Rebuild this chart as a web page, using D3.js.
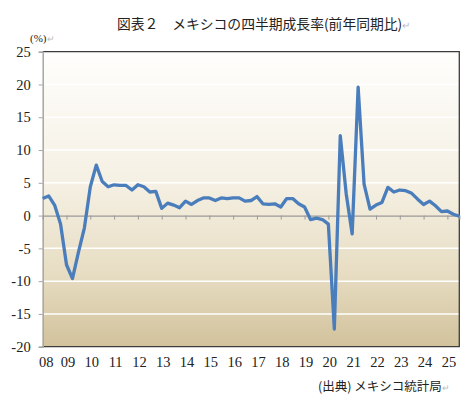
<!DOCTYPE html>
<html>
<head>
<meta charset="utf-8">
<script src="https://cdn.jsdelivr.net/npm/d3@7"></script>
<style>
  body { margin: 0; background: #fff; }
  .axis text { font-family: "Liberation Serif", "DejaVu Serif", serif; font-size: 14.5px; fill: #222; }
  .jp { font-family: "Noto Sans CJK JP", sans-serif; fill: #222; }
  .ret { fill: #bbb; }
</style>
</head>
<body>
<div id="chart"></div>
<script>
// year labels (one per 4 quarters, starting 2008Q1)
var years = ['08','09','10','11','12','13','14','15','16','17','18','19','20','21','22','23','24','25'];

// y/y growth, %, 2008Q1 .. 2025Q3
var growth = [
  2.6, 3.0, 1.6, -1.3,
  -7.5, -9.6, -5.6, -1.9,
  4.4, 7.7, 5.2, 4.4,
  4.7, 4.6, 4.6, 3.9,
  4.7, 4.4, 3.6, 3.7,
  1.1, 1.9, 1.6, 1.2,
  2.2, 1.7, 2.3, 2.7,
  2.7, 2.3, 2.7, 2.6,
  2.7, 2.7, 2.2, 2.3,
  2.9, 1.8, 1.7, 1.8,
  1.3, 2.6, 2.6, 1.8,
  1.3, -0.6, -0.4, -0.6,
  -1.3, -17.3, 12.2, 3.3,
  -2.8, 19.6, 4.8, 1.0,
  1.6, 2.0, 4.3, 3.6,
  3.9, 3.8, 3.4, 2.5,
  1.7, 2.2, 1.5, 0.6,
  0.7, 0.2, -0.1
];

var yTicks = [-20, -15, -10, -5, 0, 5, 10, 15, 20, 25];

var title = '図表２　メキシコの四半期成長率(前年同期比)';
var unit = '(%)';
var source = '(出典) メキシコ統計局';

var margin = {top: 51.7, right: 16.7, bottom: 61.3, left: 42.7},
    width = 476 - margin.left - margin.right,
    height = 408 - margin.top - margin.bottom;

var x = d3.scaleLinear().domain([0, growth.length - 1]).range([0, width]);
var y = d3.scaleLinear().domain([-20, 25]).range([height, 0]);

var svg = d3.select('#chart').append('svg')
    .attr('width', 476)
    .attr('height', 408);

// background gradient of the plot area
var grad = svg.append('defs').append('linearGradient')
    .attr('id', 'bg').attr('x1', 0).attr('y1', 0).attr('x2', 0).attr('y2', 1);
[[0, '#fefefc'], [0.45, '#f5f0e3'], [0.75, '#e7ddc3'], [1, '#d2c29c']].forEach(function(s) {
  grad.append('stop').attr('offset', s[0]).attr('stop-color', s[1]);
});

var g = svg.append('g')
    .attr('transform', 'translate(' + margin.left + ',' + margin.top + ')');

g.append('rect')
    .attr('width', width).attr('height', height)
    .attr('fill', 'url(#bg)');

// white gridlines
g.selectAll('.grid')
  .data(yTicks.filter(function(d) { return d !== 0 && d !== 25 && d !== -20; }))
.enter().append('line')
    .attr('x1', 0).attr('x2', width)
    .attr('y1', function(d) { return y(d); })
    .attr('y2', function(d) { return y(d); })
    .attr('stroke', '#fff').attr('stroke-width', 1.5);

// frame: top, right, bottom dark
g.append('path')
    .attr('d', 'M0,0H' + width + 'V' + height + 'H0')
    .attr('fill', 'none').attr('stroke', '#3c3c3c').attr('stroke-width', 1.3);

// y axis (plain hyphen for negatives, like the original)
var yAxis = g.append('g').attr('class', 'axis')
    .call(d3.axisLeft(y).tickValues(yTicks).tickSize(4).tickPadding(8)
      .tickFormat(function(d) { return String(d); }));
yAxis.select('.domain').attr('stroke', '#a6a6a6').attr('stroke-width', 1.5);
yAxis.selectAll('.tick line').attr('stroke', '#a6a6a6');

// zero line with year ticks
var zAxis = g.append('g').attr('class', 'axis')
    .attr('transform', 'translate(0,' + y(0) + ')')
    .call(d3.axisBottom(x)
      .tickValues(d3.range(4, growth.length, 4))
      .tickSize(4).tickFormat(''));
zAxis.select('.domain').attr('stroke', '#9a9a9a').attr('stroke-width', 1.2);
zAxis.selectAll('.tick line').attr('stroke', '#9a9a9a');

// year labels below the plot
var xAxis = g.append('g').attr('class', 'axis')
    .attr('transform', 'translate(1,' + height + ')')
    .call(d3.axisBottom(x)
      .tickValues(years.map(function(d, i) { return i * 4; }))
      .tickSize(0).tickPadding(10)
      .tickFormat(function(d) { return years[d / 4]; }));
xAxis.select('.domain').remove();
xAxis.selectAll('.tick').filter(function(d) { return d === 0; })
    .select('text').attr('dx', 2);

// the line
var line = d3.line()
    .x(function(d, i) { return x(i); })
    .y(function(d) { return y(d); });

g.append('path')
    .datum(growth)
    .attr('fill', 'none')
    .attr('stroke', '#4a7dbb')
    .attr('stroke-width', 3.3)
    .attr('stroke-linejoin', 'round')
    .attr('d', line);

// texts
var t = svg.append('text').attr('class', 'jp')
    .attr('x', 117).attr('y', 29).attr('font-size', 13.8);
t.append('tspan').text(title);
t.append('tspan').attr('class', 'ret').attr('font-size', 10).text('↵');

var u = svg.append('text')
    .attr('x', 30).attr('y', 42)
    .attr('font-family', 'Liberation Serif, serif').attr('font-size', 11).attr('fill', '#222');
u.append('tspan').text(unit);
u.append('tspan').attr('class', 'ret').attr('font-size', 9).text('↵');

var s = svg.append('text').attr('class', 'jp')
    .attr('x', 318).attr('y', 391).attr('font-size', 12.5);
s.append('tspan').text(source);
s.append('tspan').attr('class', 'ret').attr('font-size', 9).text('↵');
</script>
</body>
</html>
